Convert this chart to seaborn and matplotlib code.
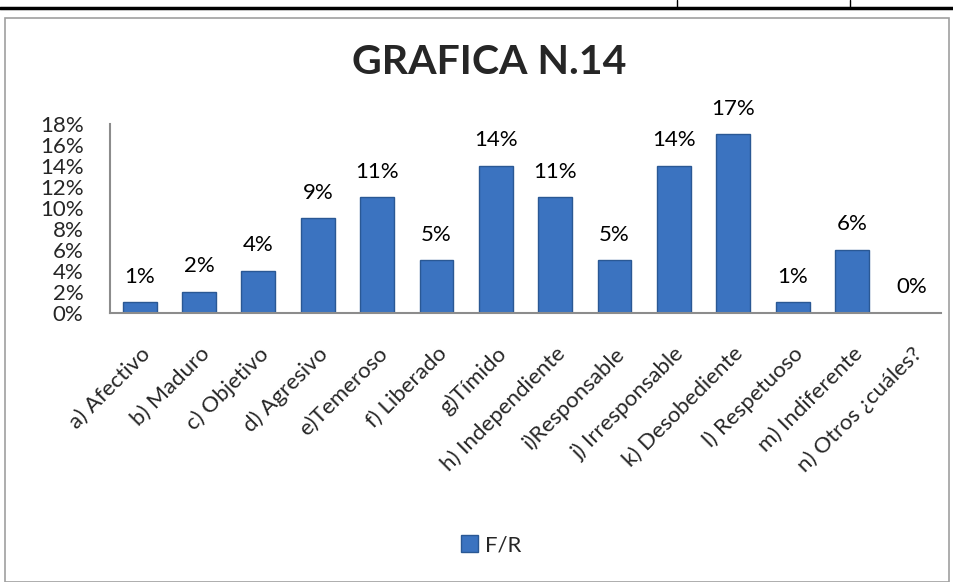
import matplotlib.pyplot as plt
import seaborn as sns
import pandas as pd
from matplotlib.lines import Line2D
from matplotlib.patches import Rectangle, Patch

categories = ["a) Afectivo", "b) Maduro", "c) Objetivo", "d) Agresivo", "e)Temeroso",
              "f) Liberado", "g)Tímido", "h) Independiente", "i)Responsable",
              "j) Irresponsable", "k) Desobediente", "l) Respetuoso", "m) Indiferente",
              "n) Otros ¿cuáles?"]
values = [1, 2, 4, 9, 11, 5, 14, 11, 5, 14, 17, 1, 6, 0]
y_ticks = [0, 2, 4, 6, 8, 10, 12, 14, 16, 18]
series_name = "F/R"
title = "GRAFICA N.14"

sns.set_style("white")
plt.rcParams['font.family'] = ['Lato', 'DejaVu Sans']

df = pd.DataFrame({"cat": categories, "val": values})

fig = plt.figure(figsize=(9.54, 5.82), dpi=100)
ax = fig.add_axes([0.1153, 0.4622, 0.8711, 0.3248])

bar_color = "#3B73C0"
sns.barplot(data=df, x="cat", y="val", color=bar_color, width=0.57,
            edgecolor="#2A5894", linewidth=1.0, saturation=1, ax=ax)

# value labels above bars
for i, v in enumerate(values):
    ax.text(i, v + 1.5, f"{v}%", ha="center", va="bottom", fontsize=16, color="black")

ax.set_ylim(0, 18)
ax.set_yticks(y_ticks)
ax.set_yticklabels([f"{t}%" for t in y_ticks], fontsize=16)
ax.set_xlim(-0.5, len(categories) - 0.5)
ax.set_xticks(range(len(categories)))
ax.set_xticklabels(categories, rotation=45, ha="right", rotation_mode="anchor", fontsize=16)
ax.tick_params(axis="x", length=0, pad=22)
ax.tick_params(axis="y", length=0, pad=19)
ax.set_xlabel("")
ax.set_ylabel("")
for s in ["top", "right"]:
    ax.spines[s].set_visible(False)
for s in ["left", "bottom"]:
    ax.spines[s].set_color("#8C8C8C")
    ax.spines[s].set_linewidth(1.5)

fig.text(0.513, 0.893, title, ha="center", va="center", fontsize=29.5, fontweight="bold")

handle = Patch(facecolor=bar_color, edgecolor="#2A5894")
fig.legend([handle], [series_name], loc="center", bbox_to_anchor=(0.515, 0.063),
           frameon=False, fontsize=16, handlelength=0.75, handleheight=0.75, handletextpad=0.3)

# surrounding frame of the document
fig.add_artist(Line2D([0, 1], [1 - 8 / 582, 1 - 8 / 582], color="black", lw=2.5,
                      transform=fig.transFigure))
for xv in [677, 850]:
    fig.add_artist(Line2D([xv / 954, xv / 954], [1, 1 - 8 / 582], color="black", lw=1,
                          transform=fig.transFigure))
fig.add_artist(Rectangle((5 / 954, 0), 944 / 954, 1 - 18 / 582, fill=False,
                         edgecolor="#A0A0A0", lw=1.2, transform=fig.transFigure))

fig.savefig("out.png", dpi=100)
